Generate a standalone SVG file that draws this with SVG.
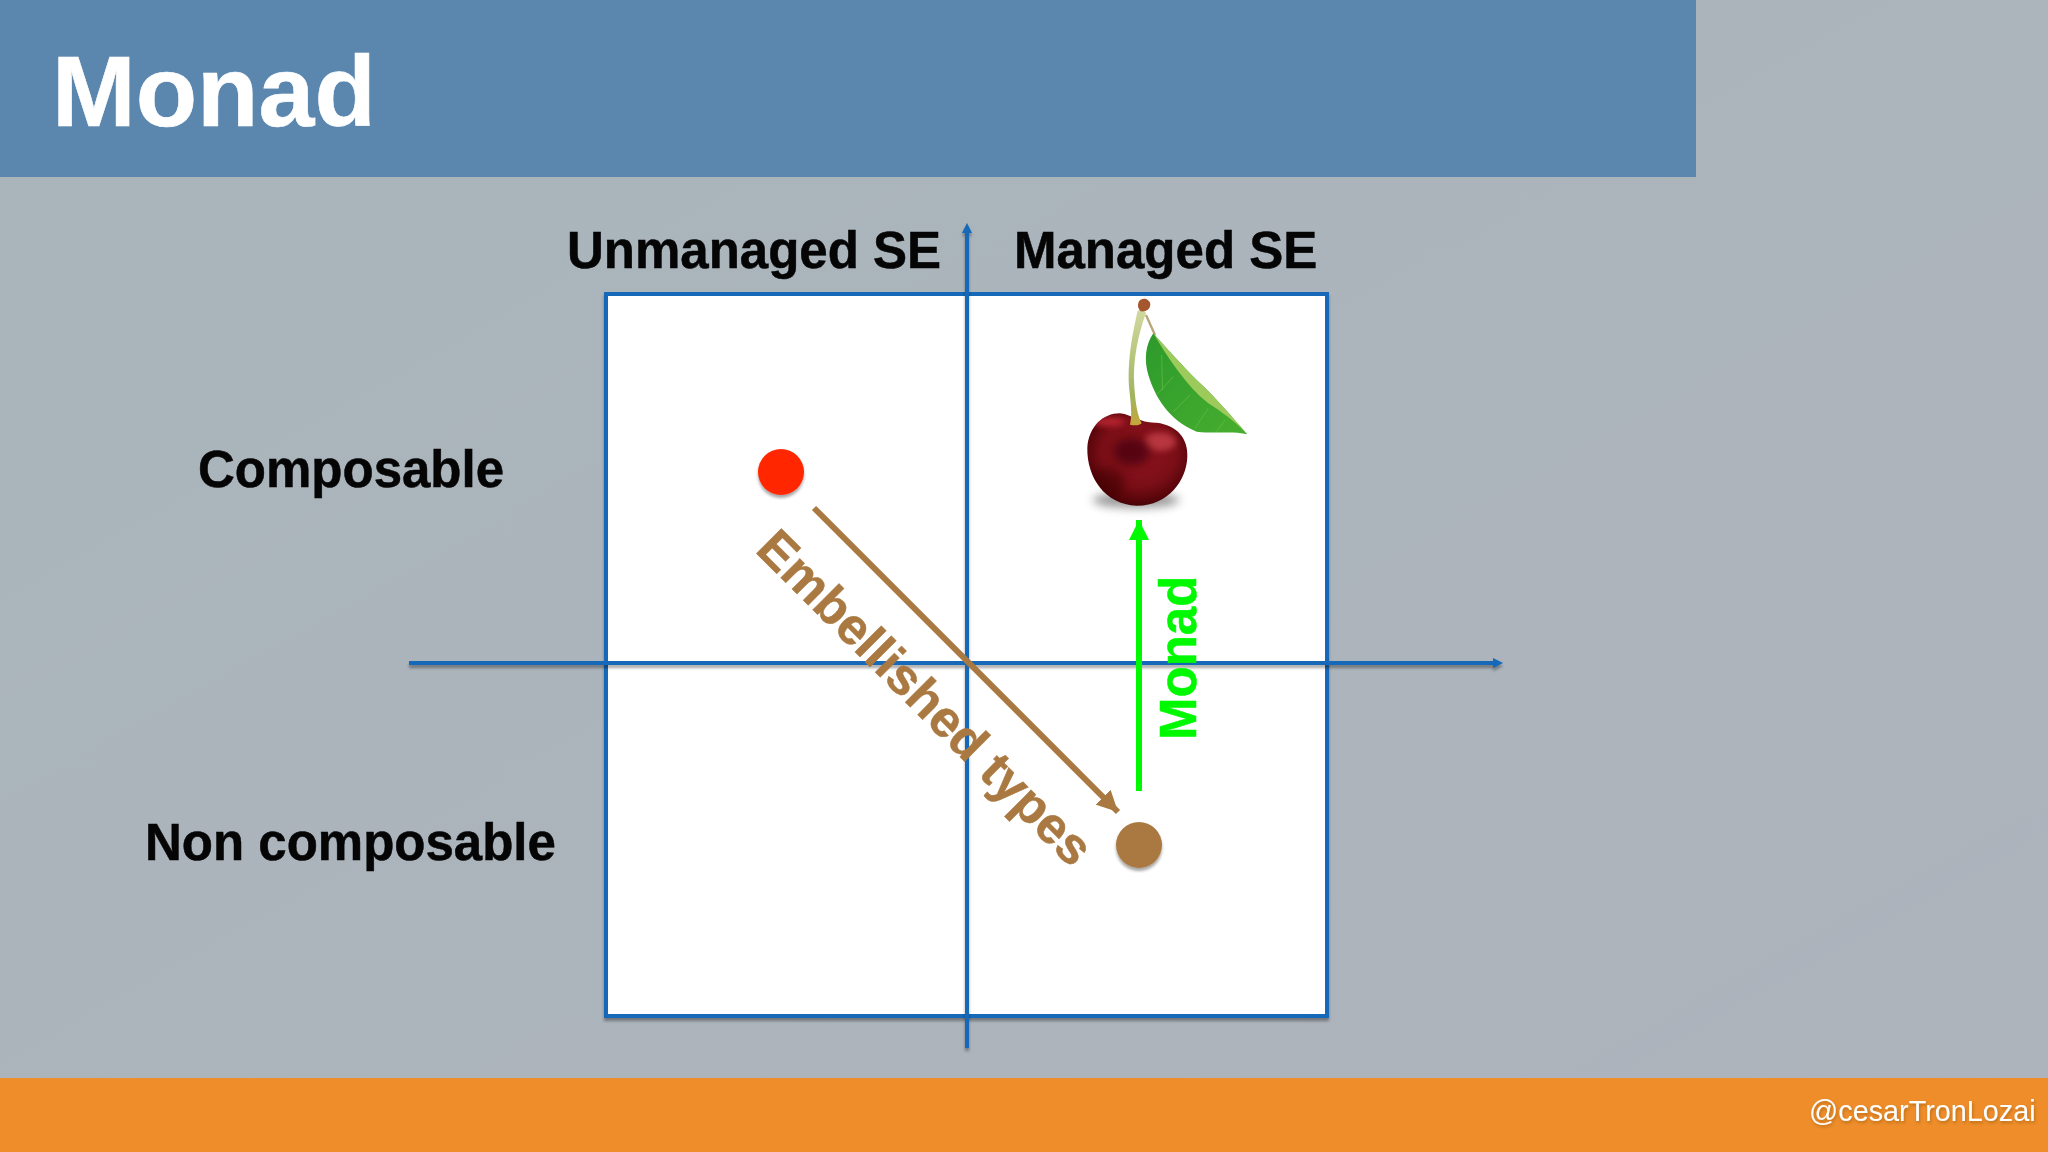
<svg xmlns="http://www.w3.org/2000/svg" width="2048" height="1152" viewBox="0 0 2048 1152">
<style>
text{font-family:"Liberation Sans",Arial,sans-serif;font-weight:700}
.lbl{font-size:51px;fill:#050505;stroke:#050505;stroke-width:.5}
.ax{stroke:#1568b8;stroke-width:4;fill:none}
</style>
<defs>
<linearGradient id="bg" x1="0" y1="0" x2="1" y2="1"><stop offset="0" stop-color="#a9b5bb"/><stop offset="1" stop-color="#aeb3bc"/></linearGradient>
<marker id="hBlue" viewBox="0 0 10 10" refX="5" refY="5" markerWidth="10" markerHeight="10" markerUnits="userSpaceOnUse" orient="auto"><path d="M0 0L10 5L0 10Z" fill="#1568b8"/></marker>
<marker id="hBrown" viewBox="0 0 10 10" refX="10" refY="5" markerWidth="21" markerHeight="21" markerUnits="userSpaceOnUse" orient="auto"><path d="M0 0L10 5L0 10Z" fill="#aa7942"/></marker>
<marker id="hGreen" viewBox="0 0 10 10" refX="10" refY="5" markerWidth="20" markerHeight="20" markerUnits="userSpaceOnUse" orient="auto"><path d="M0 0L10 5L0 10Z" fill="#00f900"/></marker>
<filter id="sh" x="-10%" y="-10%" width="120%" height="120%"><feDropShadow dx="0" dy="3" stdDeviation="1.5" flood-color="#000" flood-opacity=".35"/></filter>
<filter id="ts" x="-5%" y="-20%" width="110%" height="140%"><feDropShadow dx="1" dy="2" stdDeviation="1.5" flood-color="#7a4a10" flood-opacity=".45"/></filter>
<filter id="blurL" x="-30%" y="-60%" width="160%" height="220%"><feGaussianBlur stdDeviation="14"/></filter>
<filter id="blurM" x="-40%" y="-60%" width="180%" height="220%"><feGaussianBlur stdDeviation="9"/></filter>
<clipPath id="bodyClip"><path d="M142 505C145 440 190 400 240 400C280 405 300 430 350 428C410 435 445 475 442 530C440 600 385 678 290 677C195 675 140 590 142 505Z"/></clipPath>
<radialGradient id="ch" cx=".52" cy=".42" r=".62"><stop offset="0" stop-color="#90141f"/><stop offset=".6" stop-color="#7a0e17"/><stop offset=".86" stop-color="#560509"/><stop offset="1" stop-color="#3a0406"/></radialGradient>
<linearGradient id="lf" x1="0" y1="0" x2="1" y2="1"><stop offset="0" stop-color="#2c9a2c"/><stop offset="1" stop-color="#47ae2e"/></linearGradient>
<linearGradient id="st" x1="0" y1="0" x2="0" y2="1"><stop offset="0" stop-color="#d2d8a0"/><stop offset=".75" stop-color="#9fb45e"/><stop offset="1" stop-color="#c8a53a"/></linearGradient>
</defs>
<rect id="background" width="2048" height="1152" fill="url(#bg)"/>
<rect id="header" width="1696" height="177" fill="#5b87ae"/>
<rect id="footer" y="1078" width="2048" height="74" fill="#ee8d2a"/>
<text id="title" x="52" y="125.5" font-size="100.5" fill="#fff" stroke="#fff" stroke-width=".6">Monad</text>
<text id="handle" x="1809" y="1121" font-size="28.8" fill="#fff" filter="url(#ts)" style="font-weight:400">@cesarTronLozai</text>
<g id="quadrant"><rect x="606" y="294" width="721" height="722" fill="#fff" stroke="#1568b8" stroke-width="4" filter="url(#sh)"/></g>
<g id="connectors">
<g filter="url(#sh)">
<line class="ax" x1="967" y1="1048" x2="967" y2="228" marker-end="url(#hBlue)"/>
<line class="ax" x1="409" y1="663" x2="1498" y2="663" marker-end="url(#hBlue)"/>
</g>
<line x1="814" y1="508" x2="1118" y2="812" stroke="#aa7942" stroke-width="6" marker-end="url(#hBrown)"/>
<line x1="1139" y1="791" x2="1139" y2="520" stroke="#00f900" stroke-width="6" marker-end="url(#hGreen)"/>
</g>
<g id="red-dot"><circle cx="781" cy="472" r="23" fill="#ff2600" filter="url(#sh)"/></g>
<g id="brown-dot"><circle cx="1139" cy="845" r="23" fill="#aa7942" filter="url(#sh)"/></g>
<g id="cherry" transform="translate(1040 280) scale(.3333)">
<ellipse cx="288" cy="660" rx="130" ry="24" fill="#444" opacity=".55" filter="url(#blurL)"/>
<path d="M318 105L345 165" stroke="#b9a77a" stroke-width="7" fill="none"/>
<path d="M340 160C316 195 312 240 325 285C345 350 385 420 470 455C530 462 580 452 622 463C585 420 520 345 470 300C420 250 375 200 340 160Z" fill="url(#lf)"/>
<path d="M340 160C375 200 420 250 470 300C520 345 585 420 622 463C585 425 545 395 505 370C440 320 385 235 340 160Z" fill="#9ccb5b"/>
<path d="M365 225L368 330M400 290L350 345M450 345L400 395M505 385L465 445M555 420L530 455" stroke="#6cc04a" stroke-width="3" fill="none" opacity=".6"/>
<path d="M142 505C145 440 190 400 240 400C280 405 300 430 350 428C410 435 445 475 442 530C440 600 385 678 290 677C195 675 140 590 142 505Z" fill="url(#ch)"/>
<g clip-path="url(#bodyClip)">
<ellipse cx="360" cy="485" rx="48" ry="28" fill="#c6404a" opacity=".8" filter="url(#blurM)"/>
<ellipse cx="205" cy="425" rx="50" ry="14" fill="#c62a38" opacity=".85" filter="url(#blurM)"/>
<ellipse cx="275" cy="515" rx="55" ry="42" fill="#45040a" opacity=".75" filter="url(#blurL)"/>
<ellipse cx="200" cy="610" rx="55" ry="45" fill="#3f0306" opacity=".55" filter="url(#blurL)"/>
</g>
<path d="M293 92C280 150 260 240 268 330C274 380 276 410 270 434C285 438 300 436 305 430C290 400 286 360 283 320C277 240 296 160 318 98C312 90 300 88 293 92Z" fill="url(#st)"/>
<path d="M296 66C304 50 328 54 331 72C331 88 318 96 302 94C294 86 292 76 296 66Z" fill="#a4562c"/>
</g>
<g id="labels">
<text class="lbl" x="567" y="268">Unmanaged SE</text>
<text class="lbl" x="1014" y="268">Managed SE</text>
<text class="lbl" x="198" y="487">Composable</text>
<text class="lbl" x="145" y="860">Non composable</text>
<text x="754" y="551" font-size="51.2" fill="#aa7942" stroke="#aa7942" stroke-width=".5" transform="rotate(45 754 551)">Embellished types</text>
<text x="1196" y="740" font-size="51" fill="#00f900" stroke="#00f900" stroke-width=".5" transform="rotate(-90 1196 740)">Monad</text>
</g>
</svg>
